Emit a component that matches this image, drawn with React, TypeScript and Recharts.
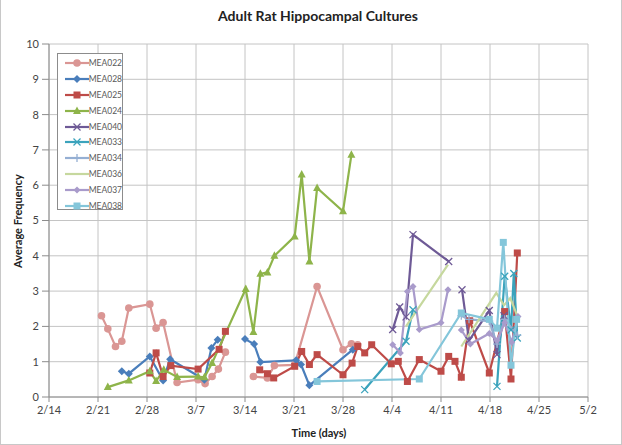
import React from "react";
import { LineChart, Line, XAxis, YAxis, CartesianGrid } from "recharts";

document.body.style.margin = "0";

// x = days since 2/14, y = average frequency (null = gap in the line)
const dateLabels = ["2/14", "2/21", "2/28", "3/7", "3/14", "3/21", "3/28", "4/4", "4/11", "4/18", "4/25", "5/2"];
const yTicks = [0, 1, 2, 3, 4, 5, 6, 7, 8, 9, 10];

const mea022 = [[7.5, 2.3], [8.4, 1.93], [9.5, 1.43], [10.4, 1.58], [11.4, 2.52], [14.4, 2.63], [15.3, 1.95], [16.3, 2.11], [18.3, 0.41], [21.3, 0.49], [22.3, 0.38], [23.3, 0.58], [24.2, 0.79], [25.2, 1.27], [27.0, null], [29.2, 0.58], [31.2, 0.54], [32.2, 0.89], [35.1, 0.91], [38.3, 3.13], [42.0, 1.34], [43.2, 1.51], [44.1, 1.48]];
const mea028 = [[10.4, 0.73], [11.4, 0.66], [14.4, 1.15], [16.3, 0.47], [17.3, 1.07], [22.2, 0.49], [23.2, 1.39], [24.1, 1.62], [26.0, null], [28.0, 1.64], [29.3, 1.5], [30.2, 0.99], [35.3, 1.04], [36.0, 0.92], [37.2, 0.33], [43.4, 1.34]];
const mea025 = [[14.4, 0.68], [15.3, 1.25], [16.3, 0.58], [17.4, 0.89], [21.3, 0.79], [24.3, 1.35], [25.2, 1.86], [27.0, null], [30.1, 0.77], [31.2, 0.66], [32.1, 0.54], [35.1, 0.87], [36.1, 1.29], [37.2, 0.92], [38.3, 1.2], [42.0, 0.63], [43.3, 0.96], [44.1, 1.43], [45.1, 1.25], [46.1, 1.48], [48.9, 0.94], [49.9, 1.01], [51.2, 0.44], [52.9, 1.06], [56.0, 0.73], [57.1, 1.15], [58.0, 1.01], [58.9, 0.56], [60.1, 2.16], [62.9, 0.68], [65.1, 2.42], [66.0, 0.51], [66.9, 4.08]];
const mea024 = [[8.4, 0.28], [11.4, 0.47], [14.4, 0.73], [15.3, 0.45], [16.4, 0.77], [18.3, 0.57], [21.3, 0.58], [22.2, 0.56], [23.3, 0.96], [28.1, 3.06], [29.2, 1.84], [30.2, 3.49], [31.2, 3.53], [32.2, 4.0], [35.1, 4.55], [36.1, 6.3], [37.2, 3.84], [38.3, 5.92], [42.0, 5.26], [43.2, 6.86]];
const mea040 = [[49.1, 1.91], [50.1, 2.55], [51.0, 2.27], [52.0, 4.6], [57.1, 3.84], [58.0, null], [59.0, 3.04], [60.0, 1.6], [62.9, 2.45], [64.0, 1.2], [65.0, 2.3]];
const mea033 = [[45.1, 0.21], [51.0, 1.58], [52.0, 2.47], [53.0, null], [64.0, 0.3], [65.1, 3.42], [66.0, 1.9], [66.4, 3.5], [66.9, 1.67]];
const mea034 = [[58.9, 2.3], [60.0, 2.2], [62.9, 2.15], [64.0, 1.5], [65.1, 2.2], [66.9, 1.75]];
const mea036 = [[51.0, 2.0], [57.0, 3.75], [58.0, null], [58.9, 1.43], [63.9, 2.95], [65.0, 2.6], [65.9, 2.8], [66.9, 2.3]];
const mea037 = [[49.1, 1.48], [50.2, 1.25], [51.2, 2.99], [52.0, 3.13], [52.9, 1.91], [56.0, 2.1], [57.0, 3.04], [58.0, null], [58.9, 1.9], [60.2, 1.5], [62.9, 1.8], [64.0, 1.6], [65.1, 2.1], [66.1, 1.55], [67.0, 2.28]];
const mea038 = [[38.3, 0.44], [52.9, 0.51], [58.9, 2.38], [62.9, 2.2], [64.0, 1.95], [64.9, 4.38], [66.0, 0.9], [66.8, 2.2]];

type Shape = "circle" | "diamond" | "square" | "triangle" | "x" | "plus" | "none" | "smalldiamond";

const SERIES: { name: string; data: (number | null)[][]; color: string; shape: Shape }[] = [
  { name: "MEA022", data: mea022, color: "#DA9694", shape: "circle" },
  { name: "MEA028", data: mea028, color: "#4A7EBB", shape: "diamond" },
  { name: "MEA025", data: mea025, color: "#BE4B48", shape: "square" },
  { name: "MEA024", data: mea024, color: "#8EB44A", shape: "triangle" },
  { name: "MEA040", data: mea040, color: "#6E5A96", shape: "x" },
  { name: "MEA033", data: mea033, color: "#3BA3BC", shape: "x" },
  { name: "MEA034", data: mea034, color: "#95AFD3", shape: "plus" },
  { name: "MEA036", data: mea036, color: "#C6D89E", shape: "none" },
  { name: "MEA037", data: mea037, color: "#A99BCB", shape: "smalldiamond" },
  { name: "MEA038", data: mea038, color: "#84C6DA", shape: "square" },
];

const FONT = "Lato, 'Open Sans', sans-serif";

function marker(shape: Shape, color: string, cx: number, cy: number, key?: string) {
  switch (shape) {
    case "circle":
      return <circle key={key} cx={cx} cy={cy} r={3.8} fill={color} />;
    case "diamond":
      return <polygon key={key} points={`${cx},${cy - 4} ${cx + 4},${cy} ${cx},${cy + 4} ${cx - 4},${cy}`} fill={color} />;
    case "smalldiamond":
      return <polygon key={key} points={`${cx},${cy - 3.5} ${cx + 3.5},${cy} ${cx},${cy + 3.5} ${cx - 3.5},${cy}`} fill={color} />;
    case "square":
      return <rect key={key} x={cx - 3.5} y={cy - 3.5} width={7} height={7} fill={color} />;
    case "triangle":
      return <polygon key={key} points={`${cx},${cy - 4.5} ${cx + 4},${cy + 3} ${cx - 4},${cy + 3}`} fill={color} />;
    case "x":
      return (
        <g key={key} stroke={color} strokeWidth={1.3}>
          <line x1={cx - 3.5} y1={cy - 3.5} x2={cx + 3.5} y2={cy + 3.5} />
          <line x1={cx - 3.5} y1={cy + 3.5} x2={cx + 3.5} y2={cy - 3.5} />
        </g>
      );
    case "plus":
      return (
        <g key={key} stroke={color} strokeWidth={1.3}>
          <line x1={cx} y1={cy - 4} x2={cx} y2={cy + 4} />
          <line x1={cx - 4} y1={cy} x2={cx + 4} y2={cy} />
        </g>
      );
    default:
      return <g key={key} />;
  }
}

const makeDot = (shape: Shape, color: string) => (props: any) => {
  const { cx, cy, index, payload } = props;
  if (cx == null || cy == null || payload?.y == null) return <g key={`d-${index}`} />;
  return marker(shape, color, cx, cy, `d-${index}`);
};

function LegendBox() {
  return (
    <div
      style={{
        position: "absolute",
        left: 56,
        top: 53,
        width: 66,
        height: 157,
        border: "1px solid #8c8c8c",
        background: "#fff",
        boxSizing: "border-box",
        paddingTop: 1,
      }}
    >
      {SERIES.map((s) => (
        <div key={s.name} style={{ height: 15.9, display: "flex", alignItems: "center" }}>
          <svg width={26} height={10} style={{ marginLeft: 6 }}>
            <line x1={1} y1={5} x2={25} y2={5} stroke={s.color} strokeWidth={2.2} />
            {marker(s.shape, s.color, 13, 5)}
          </svg>
          <span style={{ fontFamily: FONT, fontSize: 8.5, color: "#595959" }}>{s.name}</span>
        </div>
      ))}
    </div>
  );
}

export default function App() {
  const xTicks = dateLabels.map((_, i) => i * 7);
  return (
    <div
      style={{
        position: "relative",
        width: 622,
        height: 445,
        background: "#fff",
        boxSizing: "border-box",
        borderLeft: "1px solid #c8c8c8",
        borderRight: "1px solid #c8c8c8",
        borderBottom: "1px solid #c8c8c8",
        fontFamily: FONT,
      }}
    >
      <div
        style={{
          position: "absolute",
          top: 7,
          left: 0,
          width: 634,
          textAlign: "center",
          fontWeight: 700,
          fontSize: 14,
          color: "#222",
        }}
      >
        Adult Rat Hippocampal Cultures
      </div>
      <div
        style={{
          position: "absolute",
          left: 10,
          top: 221,
          transform: "translate(-50%, -50%) rotate(-90deg) translateY(50%)",
          transformOrigin: "center",
          whiteSpace: "nowrap",
          fontWeight: 700,
          fontSize: 11,
          color: "#222",
        }}
      >
        Average Frequency
      </div>
      <div
        style={{
          position: "absolute",
          top: 426,
          left: 0,
          width: 636,
          textAlign: "center",
          fontWeight: 700,
          fontSize: 11,
          color: "#222",
        }}
      >
        Time (days)
      </div>
      <div style={{ position: "absolute", left: 0, top: 0 }}>
        <LineChart width={622} height={445} margin={{ top: 44, right: 35, bottom: 18, left: 0 }}>
          <CartesianGrid stroke="#c4c4c4" strokeWidth={1} />
          <XAxis
            type="number"
            dataKey="x"
            domain={[0, 77]}
            ticks={xTicks}
            tickFormatter={(v: number) => dateLabels[Math.round(v / 7)]}
            stroke="#8c8c8c"
            tickSize={5}
            tickMargin={4}
            height={30}
            tick={{ fontSize: 11, fill: "#444", fontFamily: FONT }}
            allowDataOverflow
          />
          <YAxis
            type="number"
            domain={[0, 10]}
            ticks={yTicks}
            width={48}
            stroke="#8c8c8c"
            tickSize={7}
            tickMargin={3}
            tick={{ fontSize: 11, fill: "#444", fontFamily: FONT }}
          />
          {SERIES.map((s) => (
            <Line
              key={s.name}
              data={s.data.map(([x, y]) => ({ x, y }))}
              dataKey="y"
              name={s.name}
              type="linear"
              stroke={s.color}
              strokeWidth={2.2}
              dot={makeDot(s.shape, s.color)}
              activeDot={false}
              isAnimationActive={false}
              connectNulls={false}
            />
          ))}
        </LineChart>
      </div>
      <LegendBox />
    </div>
  );
}
